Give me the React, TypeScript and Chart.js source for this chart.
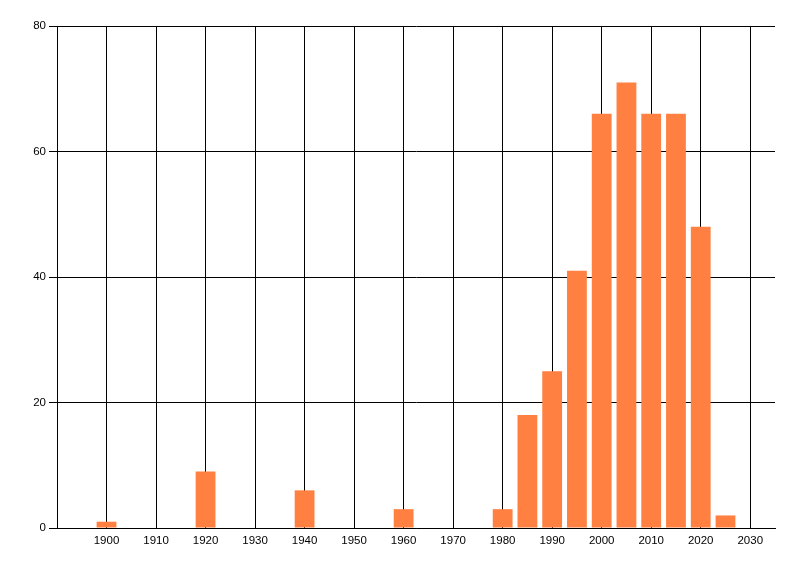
import React, { useEffect, useRef } from "react";
import { Chart, registerables } from "chart.js";

Chart.register(...registerables);

const YEARS = [1900, 1920, 1940, 1960, 1980, 1985, 1990, 1995, 2000, 2005, 2010, 2015, 2020, 2025];
const COUNTS = [1, 9, 6, 3, 3, 18, 25, 41, 66, 71, 66, 66, 48, 2];
const X_TICKS = [1900, 1910, 1920, 1930, 1940, 1950, 1960, 1970, 1980, 1990, 2000, 2010, 2020, 2030];
const Y_TICKS = [0, 20, 40, 60, 80];

export default function App() {
  const ref = useRef<HTMLCanvasElement | null>(null);

  useEffect(() => {
    if (!ref.current) return;
    const font = { family: "'Liberation Sans', Arial, sans-serif", size: 11.5 };
    const chart = new Chart(ref.current, {
      type: "bar",
      data: {
        datasets: [
          {
            data: YEARS.map((x, i) => ({ x, y: COUNTS[i] })),
            backgroundColor: "rgb(255,128,64)",
            borderWidth: 0,
            barPercentage: 0.8,
            categoryPercentage: 1,
          },
        ],
      },
      options: {
        animation: false,
        responsive: false,
        devicePixelRatio: 1,
        layout: { padding: { top: 26, right: 25, left: 0, bottom: 0 } },
        plugins: { legend: { display: false }, tooltip: { enabled: false } },
        scales: {
          x: {
            type: "linear",
            min: 1890,
            max: 2035,
            offset: false,
            afterBuildTicks: (scale: any) => {
              scale.ticks = X_TICKS.map((v) => ({ value: v }));
            },
            afterFit: (scale: any) => {
              scale.height = 48;
            },
            grid: { color: "#000", lineWidth: 1, drawTicks: false, offset: false },
            border: { display: true, color: "#000", width: 1 },
            ticks: {
              color: "#000",
              font,
              padding: 6,
              maxRotation: 0,
              autoSkip: false,
              callback: (v: any) => String(v),
            },
          },
          y: {
            min: 0,
            max: 80,
            afterBuildTicks: (scale: any) => {
              scale.ticks = Y_TICKS.map((v) => ({ value: v }));
            },
            afterFit: (scale: any) => {
              scale.width = 57;
            },
            grid: { color: "#000", lineWidth: 1, drawTicks: true, tickLength: 8 },
            border: { display: true, color: "#000", width: 1 },
            ticks: { color: "#000", font, padding: 3 },
          },
        },
      },
    } as any);
    return () => chart.destroy();
  }, []);

  return (
    <div style={{ position: "fixed", left: 0, top: 0, width: 800, height: 576, background: "#fff" }}>
      <canvas ref={ref} width={800} height={576} style={{ display: "block" }} />
    </div>
  );
}
